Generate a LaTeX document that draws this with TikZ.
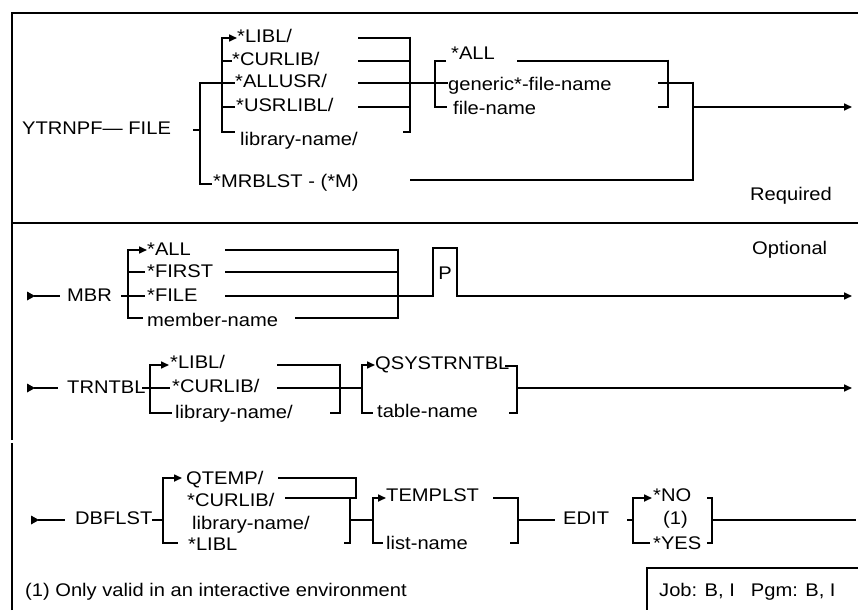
\documentclass[tikz,border=0pt]{standalone}
\usepackage{fontspec}
\setmainfont[FakeStretch=1.1]{Liberation Sans}
\usetikzlibrary{arrows.meta}
\begin{document}
\begin{tikzpicture}[x=1pt,y=-1pt,
 ln/.style={line width=1.6pt},
 br/.style={line width=2.8pt},
 bd/.style={line width=2pt},
 tip/.style={-{Triangle[length=8pt,width=7pt]}},
 lbl/.style={inner sep=0pt,anchor=mid west,yshift=-1.7pt,font=\fontsize{18.3}{20}\selectfont},
 start/.style={fill=black}
]
\useasboundingbox (0,0) rectangle (858,610);
% ---------- frame ----------
\draw[bd] (12,610) -- (12,443);
\draw[bd] (12,440) -- (12,13) -- (858,13);
\draw[bd] (12,223) -- (858,223);
\draw[bd] (858,568) -- (647,568) -- (647,610);

% ================= Section 1 : FILE =================
\node[lbl] (ytr) at (22,130) {YTRNPF— FILE};
\draw[ln] (193,130) -- (200,130);
\draw[br] (224,83) -- (200,83) -- (200,184) -- (212,184);
% library choices
\draw[br] (228,38) -- (222,38) -- (222,132) -- (235,132);
\draw[ln,tip] (222,38) -- (237,38);
\draw[ln] (222,61) -- (232,61);
\draw[ln] (222,83) -- (235,83);
\draw[ln] (222,107) -- (235,107);
\node[lbl] (libl) at (237,38) {*LIBL/};
\node[lbl] (curlib) at (232,61) {*CURLIB/};
\node[lbl] (allusr) at (235,83) {*ALLUSR/};
\node[lbl] (usrlibl) at (236,107) {*USRLIBL/};
\node[lbl] (libname) at (240,141) {library-name/};
\node[lbl] (mrb) at (213,183) {*MRBLST - (*M)};
\draw[ln] (358,38) -- (410,38);
\draw[ln] (358,61) -- (410,61);
\draw[ln] (358,83) -- (448,83);
\draw[ln] (358,107) -- (410,107);
\draw[br] (410,36.6) -- (410,132) -- (403,132);
% file choices
\draw[br] (446,61) -- (435,61) -- (435,107) -- (447,107);
\node[lbl] (fall) at (451,55) {*ALL};
\node[lbl] (gen) at (448,86) {generic*-file-name};
\node[lbl] (fname) at (453,110) {file-name};
\draw[ln] (517,61) -- (668,61);
\draw[br] (668,59.6) -- (668,107) -- (658,107);
\draw[ln] (658,83) -- (693,83);
% outer closing
\draw[ln] (410,180) -- (693,180);
\draw[br] (693,81.6) -- (693,181.4);
\draw[ln,tip] (693,107) -- (852,107);
\node[lbl] (req) at (750,196) {Required};

% ================= Section 2 : MBR =================
\fill[start] (27,291.5) -- (35,296) -- (27,300.5) -- cycle;
\draw[ln] (34,296) -- (60,296);
\node[lbl] (mbr) at (67,297) {MBR};
\draw[ln] (121,296) -- (128,296);
\draw[br] (134,250) -- (128,250) -- (128,318) -- (143,318);
\draw[ln,tip] (128,250) -- (147,250);
\draw[ln] (128,272) -- (145,272);
\draw[ln] (128,296) -- (145,296);
\node[lbl] (mall) at (147,251) {*ALL};
\node[lbl] (mfirst) at (147,273) {*FIRST};
\node[lbl] (mfile) at (147,297) {*FILE};
\node[lbl] (mname) at (147,322) {member-name};
\draw[ln] (225,250) -- (398,250);
\draw[ln] (225,272) -- (398,272);
\draw[ln] (295,318) -- (398,318);
\draw[br] (398,248.6) -- (398,319.4);
\draw[ln] (225,296) -- (433,296);
\draw[br] (433,297) -- (433,248) -- (457,248) -- (457,297);
\node[inner sep=0pt,font=\fontsize{18.3}{20}\selectfont] (pbox) at (445,273) {P};
\draw[ln,tip] (457,296) -- (852,296);
\node[lbl] (opt) at (752,250) {Optional};

% ---------- TRNTBL ----------
\fill[start] (27,383.5) -- (35,388) -- (27,392.5) -- cycle;
\draw[ln] (34,388) -- (58,388);
\node[lbl] (trn) at (67,389) {TRNTBL};
\draw[ln] (142,388) -- (150,388);
\draw[br] (156,365) -- (150,365) -- (150,413) -- (172,413);
\draw[ln,tip] (150,365) -- (169,365);
\draw[ln] (150,388) -- (170,388);
\node[lbl] (tlibl) at (170,364) {*LIBL/};
\node[lbl] (tcur) at (172,388) {*CURLIB/};
\node[lbl] (tlib) at (175,414) {library-name/};
\draw[ln] (277,365) -- (340,365);
\draw[ln] (277,388) -- (362,388);
\draw[br] (340,363.6) -- (340,413) -- (330,413);
\draw[br] (368,365) -- (362,365) -- (362,413) -- (373,413);
\draw[ln,tip] (362,365) -- (375,365);
\node[lbl] (qsys) at (375,365) {QSYSTRNTBL};
\node[lbl] (tname) at (377,413) {table-name};
\draw[br] (505,366) -- (517,366) -- (517,413) -- (509,413);
\draw[ln,tip] (517,388) -- (852,388);

% ================= Section 3 : DBFLST =================
\fill[start] (31,515.5) -- (39,520) -- (31,524.5) -- cycle;
\draw[ln] (38,520) -- (65,520);
\node[lbl] (dbf) at (75,520) {DBFLST};
\draw[ln] (152,520) -- (163,520);
\draw[br] (170,478) -- (163,478) -- (163,543) -- (178,543);
\draw[ln,tip] (163,478) -- (182,478);
\node[lbl] (qtemp) at (186,480) {QTEMP/};
\node[lbl] (dcur) at (187,502) {*CURLIB/};
\node[lbl] (dlib) at (192,525) {library-name/};
\node[lbl] (dlibl) at (188,546) {*LIBL};
\draw[br] (278,478) -- (356,478) -- (356,498);
\draw[br] (285,498) -- (357.4,498);
\draw[br] (350,498) -- (350,543) -- (344,543);
\draw[ln] (350,520) -- (373,520);
\draw[br] (379,498) -- (373,498) -- (373,543) -- (383,543);
\draw[ln,tip] (373,498) -- (386,498);
\node[lbl] (templst) at (386,497) {TEMPLST};
\node[lbl] (lname) at (386,545) {list-name};
\draw[br] (493,498) -- (518,498) -- (518,543) -- (510,543);
\draw[ln] (518,520) -- (555,520);
\node[lbl] (edit) at (563,520) {EDIT};
\draw[ln] (627,520) -- (633,520);
\draw[br] (639,498) -- (633,498) -- (633,543) -- (650,543);
\draw[ln,tip] (633,498) -- (652,498);
\node[lbl] (no) at (653,497) {*NO};
\node[lbl] (one) at (663,520) {(1)};
\node[lbl] (yes) at (653,545) {*YES};
\draw[br] (707,498) -- (712,498) -- (712,543) -- (707,543);
\draw[ln] (712,520) -- (856,520);

% ---------- footer ----------
\node[lbl] (foot) at (25,592) {(1) Only valid in an interactive environment};
\node[lbl] (job) at (659,592) {Job: B, I\hspace{16pt}Pgm: B, I};
\end{tikzpicture}
\end{document}
